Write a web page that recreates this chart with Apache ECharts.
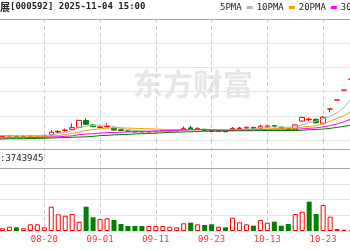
<!DOCTYPE html>
<html><head><meta charset="utf-8">
<script src="https://cdn.jsdelivr.net/npm/echarts@6/dist/echarts.min.js"></script>
<style>html,body{margin:0;padding:0;background:#fff;overflow:hidden}#c{width:350px;height:250px}</style>
</head><body><div id="c"></div><script>
const dates=['08-11','08-12','08-13','08-14','08-15','08-18','08-19','08-20','08-21','08-22','08-25','08-26','08-27','08-28','08-29','09-01','09-02','09-03','09-04','09-05','09-08','09-09','09-10','09-11','09-12','09-15','09-16','09-17','09-18','09-19','09-22','09-23','09-24','09-25','09-26','09-29','09-30','10-09','10-10','10-13','10-14','10-15','10-16','10-17','10-20','10-21','10-22','10-23','10-24','10-27','10-28','10-29','10-30','10-31','11-03','11-04'];
const openP=[2.60,2.58,2.60,2.61,2.58,2.59,2.60,2.59,2.64,2.77,2.83,2.88,2.96,3.24,3.06,2.95,2.99,2.92,2.86,2.81,2.80,2.79,2.77,2.78,2.79,2.80,2.81,2.86,2.94,2.89,2.88,2.83,2.79,2.81,2.86,2.91,2.93,2.96,2.93,2.98,3.03,2.97,2.92,2.90,3.22,3.28,3.29,3.13,3.72,4.09,4.50,4.95,5.45,5.99,6.59,7.25];
const closeP=[2.61,2.60,2.62,2.59,2.60,2.62,2.61,2.62,2.76,2.79,2.85,2.95,3.25,3.09,2.99,2.98,3.00,2.85,2.83,2.80,2.77,2.77,2.79,2.80,2.82,2.82,2.83,2.92,2.90,2.92,2.83,2.79,2.81,2.78,2.92,2.93,2.96,2.91,3.01,3.02,3.00,2.91,2.88,3.06,3.37,3.30,3.15,3.38,3.72,4.09,4.50,4.95,5.45,5.99,6.59,7.25];
const lowP=[2.57,2.56,2.58,2.57,2.56,2.58,2.58,2.58,2.62,2.73,2.79,2.85,2.93,3.06,2.97,2.93,2.98,2.83,2.81,2.79,2.76,2.75,2.75,2.76,2.78,2.78,2.79,2.84,2.88,2.85,2.81,2.77,2.77,2.76,2.80,2.87,2.91,2.89,2.92,2.95,2.95,2.89,2.85,2.88,3.19,3.22,3.12,3.10,3.58,4.09,4.50,4.95,5.45,5.99,6.59,7.25];
const highP=[2.63,2.62,2.64,2.62,2.62,2.64,2.63,2.64,2.85,2.85,2.91,3.12,3.25,3.33,3.08,3.00,3.13,2.95,2.88,2.83,2.82,2.81,2.81,2.82,2.84,2.84,2.85,3.00,3.02,2.96,2.90,2.85,2.83,2.83,2.98,2.98,3.00,2.98,3.07,3.06,3.07,2.99,2.94,3.08,3.40,3.37,3.33,3.43,3.72,4.09,4.50,4.95,5.45,5.99,6.59,7.25];
const ma5=[2.63,2.63,2.62,2.62,2.61,2.62,2.62,2.63,2.66,2.70,2.75,2.82,2.96,3.01,3.04,3.05,3.05,2.99,2.92,2.87,2.84,2.82,2.80,2.79,2.79,2.80,2.81,2.84,2.86,2.88,2.88,2.87,2.85,2.83,2.83,2.85,2.88,2.90,2.95,2.97,2.98,2.97,2.96,2.98,3.07,3.15,3.22,3.31,3.42,3.56,3.79,4.13,4.54,5.00,5.50,6.05];
const ma10=[2.55,2.55,2.56,2.56,2.56,2.57,2.57,2.58,2.60,2.62,2.66,2.71,2.77,2.83,2.87,2.90,2.93,2.94,2.94,2.93,2.92,2.91,2.90,2.89,2.88,2.87,2.86,2.86,2.86,2.86,2.86,2.86,2.86,2.86,2.86,2.86,2.87,2.87,2.88,2.89,2.91,2.92,2.92,2.93,2.97,3.00,3.03,3.11,3.21,3.33,3.45,3.61,3.85,4.14,4.45,4.83];
const ma20=[2.52,2.52,2.53,2.53,2.53,2.54,2.54,2.55,2.56,2.57,2.59,2.61,2.66,2.68,2.70,2.72,2.74,2.75,2.76,2.77,2.78,2.79,2.80,2.81,2.82,2.83,2.84,2.85,2.86,2.87,2.87,2.86,2.85,2.84,2.84,2.84,2.84,2.85,2.86,2.86,2.86,2.86,2.86,2.87,2.90,2.92,2.94,2.98,3.03,3.10,3.19,3.30,3.42,3.56,3.73,3.92];
const ma30=[2.48,2.48,2.49,2.49,2.49,2.50,2.50,2.51,2.52,2.53,2.54,2.55,2.56,2.57,2.59,2.62,2.63,2.65,2.66,2.67,2.69,2.70,2.71,2.72,2.74,2.75,2.76,2.77,2.78,2.79,2.80,2.80,2.81,2.81,2.82,2.82,2.82,2.82,2.83,2.83,2.83,2.83,2.83,2.83,2.84,2.86,2.87,2.89,2.92,2.96,3.00,3.06,3.14,3.24,3.36,3.50];
const volume=[8,9.4,15,12.9,9.4,23.4,23.4,12.9,84.8,58.3,53.4,59.3,32.5,84.8,47.8,41.9,44.3,38.4,24.4,17.5,17.5,17.5,17.5,17.5,17.5,15,12.9,26.9,29,23.4,20.9,23.4,15,12.9,46.4,30.4,23.4,18.5,38.4,29,32.5,18.5,24.4,59.3,67.4,102.3,59.3,90.7,49.9,7,4.5,3.5,4.2,5.1,6.8,3.74];
const volDir=[1,1,1,-1,1,1,1,1,1,1,1,1,1,-1,-1,1,1,-1,-1,-1,-1,-1,1,1,1,1,1,1,-1,1,-1,-1,1,-1,1,1,1,-1,1,1,-1,-1,-1,1,1,-1,-1,1,1,1,1,1,1,1,1,1];
const maNames=['5PMA','10PMA','20PMA','30PMA'];
const titleName='展';
const titleRest='[000592] 2025-11-04 15:00';
const volText=':3743945';

const UP='#ff0000', DOWN='#008000';
const maColors=['#b4b4b4','#f5a200','#ff00ff','#007a00'];
const mono='"DejaVu Sans Mono", "Noto Sans CJK SC", monospace';
const kData=dates.map((d,i)=>[openP[i],closeP[i],lowP[i],highP[i]]);
const vData=volume.map((v,i)=>({value:v,itemStyle:volDir[i]>0?{color:'#ffffff',borderColor:UP,borderWidth:1}:{color:DOWN,borderColor:DOWN,borderWidth:0}}));
const showIdx=(i)=>i%8===7;
const gl={left:-4.5,right:-28.9,outerBoundsMode:'none'};
function xa(g,labels){return {type:'category',gridIndex:g,data:dates,boundaryGap:false,
 axisLine:{show:false},axisTick:{show:false},
 axisLabel:labels?{show:true,interval:showIdx,color:'#ff3333',fontFamily:mono,fontSize:9,margin:4}:{show:false},
 splitLine:{show:true,interval:showIdx,lineStyle:{color:'#cfcfcf',type:[4,3],width:1}}};}
const chart=echarts.init(document.getElementById('c'),null,{renderer:'canvas'});
chart.setOption({
 animation:false,
 backgroundColor:'#ffffff',
 title:{text:'{a|'+titleName+'}{b|'+titleRest+'}',left:0,top:2,padding:0,textStyle:{rich:{a:{fontSize:10,fontFamily:'"Noto Sans CJK SC"',color:'#222'},b:{fontSize:9,fontFamily:mono,color:'#222'}}}},
 legend:{data:maNames,left:220,top:3,width:220,padding:0,orient:'horizontal',align:'right',icon:'rect',itemWidth:6,itemHeight:3,itemGap:4,selectedMode:false,textStyle:{fontSize:9,fontFamily:mono,color:'#222',padding:0}},
 grid:[Object.assign({top:19,height:121},gl),Object.assign({top:140,height:28},gl),Object.assign({top:168,height:63},gl)],
 xAxis:[xa(0,false),xa(1,false),xa(2,true)],
 yAxis:[
  {type:'value',gridIndex:0,min:2.438,max:7.438,interval:1,axisLine:{show:false},axisTick:{show:false},axisLabel:{show:false},splitLine:{lineStyle:{color:'#e6e6e6'}}},
  {type:'value',gridIndex:1,min:0,max:1,show:false},
  {type:'value',gridIndex:2,min:0,max:220,interval:55,axisLine:{show:false},axisTick:{show:false},axisLabel:{show:false},splitLine:{lineStyle:{color:'#e6e6e6'}}}
 ],
 graphic:[
  {type:'text',x:133,y:84,z:-10,style:{text:'东方财富',font:'bold 30px "Noto Sans CJK SC"',fill:'#e6e6e6',verticalAlign:'middle'}},
  {type:'line',z:10,shape:{x1:0,y1:19.5,x2:350,y2:19.5},style:{stroke:'#a8a8a8',lineWidth:1}},
  {type:'line',z:10,shape:{x1:0,y1:149.5,x2:350,y2:149.5},style:{stroke:'#a8a8a8',lineWidth:1}},
  {type:'line',z:10,shape:{x1:0,y1:168.5,x2:350,y2:168.5},style:{stroke:'#a8a8a8',lineWidth:1}},
  {type:'text',x:0,y:159,z:10,style:{text:volText,font:'9px '+mono,fill:'#222',verticalAlign:'middle'}}
 ],
 series:[
  {type:'candlestick',xAxisIndex:0,yAxisIndex:0,data:kData,barWidth:5,
   itemStyle:{color:'#ffffff',color0:DOWN,borderColor:UP,borderColor0:DOWN,borderColorDoji:UP,borderWidth:1}},
  {name:maNames[0],type:'line',xAxisIndex:0,yAxisIndex:0,data:ma5,symbol:'none',lineStyle:{width:1,color:maColors[0]},itemStyle:{color:maColors[0]}},
  {name:maNames[1],type:'line',xAxisIndex:0,yAxisIndex:0,data:ma10,symbol:'none',lineStyle:{width:1,color:maColors[1]},itemStyle:{color:maColors[1]}},
  {name:maNames[2],type:'line',xAxisIndex:0,yAxisIndex:0,data:ma20,symbol:'none',lineStyle:{width:1,color:maColors[2]},itemStyle:{color:maColors[2]}},
  {name:maNames[3],type:'line',xAxisIndex:0,yAxisIndex:0,data:ma30,symbol:'none',lineStyle:{width:1,color:maColors[3]},itemStyle:{color:maColors[3]}},
  {type:'bar',xAxisIndex:2,yAxisIndex:2,data:vData,barWidth:5}
 ]
});
</script></body></html>
